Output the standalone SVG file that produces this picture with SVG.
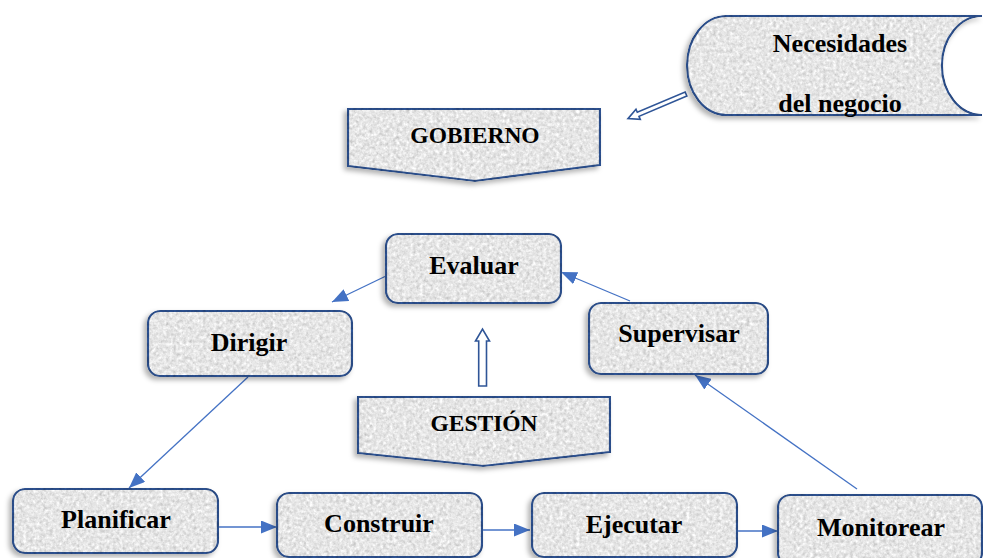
<svg xmlns="http://www.w3.org/2000/svg" width="983" height="558" viewBox="0 0 983 558">
  <style>
    .shape { fill: #ffffff; stroke: #2F5597; stroke-width: 2.2; filter: url(#granite); }
    .label { font-family: "Liberation Serif", "Times New Roman", serif; font-weight: bold; font-size: 26px; fill: #000; text-anchor: middle; }
    .caps { font-size: 23.5px; }
    .link { fill: none; stroke: #4472C4; stroke-width: 1.3; marker-end: url(#tri); }
    .hollow { fill: #ffffff; stroke: #2F5597; stroke-width: 1.6; stroke-linejoin: miter; }
  </style>
  <defs>
    <!-- grey stone texture with a soft shadow falling down-left -->
    <filter id="granite" x="-10%" y="-15%" width="120%" height="135%" color-interpolation-filters="sRGB">
      <feTurbulence type="fractalNoise" baseFrequency="0.3" numOctaves="3" seed="7" result="noise"/>
      <feColorMatrix in="noise" type="matrix" values="0.22 0.22 0 0 0.68  0.22 0.22 0 0 0.68  0.22 0.22 0 0 0.68  0 0 0 0 1" result="grey"/>
      <feBlend in="SourceGraphic" in2="grey" mode="multiply" result="blend"/>
      <feComposite in="blend" in2="SourceGraphic" operator="in" result="tex"/>
      <feGaussianBlur in="SourceAlpha" stdDeviation="2.5" result="blur"/>
      <feOffset in="blur" dx="-3" dy="3" result="off"/>
      <feFlood flood-color="#000" flood-opacity="0.3"/>
      <feComposite in2="off" operator="in" result="shadow"/>
      <feMerge>
        <feMergeNode in="shadow"/>
        <feMergeNode in="tex"/>
      </feMerge>
    </filter>
    <marker id="tri" markerUnits="userSpaceOnUse" markerWidth="16" markerHeight="13" refX="16" refY="6.5" orient="auto">
      <path d="M0,0 L16,6.5 L0,13 Z" fill="#4472C4"/>
    </marker>
  </defs>

  <!-- connectors -->
  <g id="connectors">
    <line class="link" x1="386" y1="276" x2="332" y2="302"/>
    <line class="link" x1="248" y1="377" x2="129" y2="488"/>
    <line class="link" x1="218" y1="527" x2="277" y2="527"/>
    <line class="link" x1="482" y1="530" x2="530" y2="530"/>
    <line class="link" x1="737" y1="531" x2="778" y2="531"/>
    <line class="link" x1="857" y1="489" x2="695" y2="375"/>
    <line class="link" x1="630" y1="301" x2="561" y2="272"/>
    <!-- block arrows -->
    <polygon class="hollow" transform="translate(686,94) rotate(157)" points="0,-2.2 52,-2.2 52,-5.5 63,0 52,5.5 52,2.2 0,2.2"/>
    <path class="hollow" d="M478.7 386 L478.7 341 L475.5 341 L482.5 329 L489.5 341 L486.5 341 L486.5 386 Z"/>
  </g>

  <g id="necesidades">
    <path class="shape" d="M726 16 L982 16 A40 49.5 0 0 0 982 115 L726 115 A39 49.5 0 0 1 726 16 Z"/>
    <text class="label" x="840" y="52">Necesidades</text>
    <text class="label" x="840" y="112">del negocio</text>
  </g>

  <g id="gobierno">
    <path class="shape" d="M348 109 L600 109 L600 165 L475 181 L348 166 Z"/>
    <text class="label caps" x="475" y="143">GOBIERNO</text>
  </g>

  <g id="evaluar">
    <rect class="shape" x="386" y="234" width="175" height="69" rx="12"/>
    <text class="label" x="474" y="274">Evaluar</text>
  </g>

  <g id="dirigir">
    <rect class="shape" x="148" y="311" width="204" height="65" rx="12"/>
    <text class="label" x="249" y="351">Dirigir</text>
  </g>

  <g id="supervisar">
    <rect class="shape" x="589" y="303" width="179" height="71" rx="12"/>
    <text class="label" x="679" y="342">Supervisar</text>
  </g>

  <g id="gestion">
    <path class="shape" d="M358 397 L610 397 L610 452 L483 466 L358 453 Z"/>
    <text class="label caps" x="484" y="431">GESTIÓN</text>
  </g>

  <g id="planificar">
    <rect class="shape" x="13" y="489" width="205" height="64" rx="12"/>
    <text class="label" x="116" y="528">Planificar</text>
  </g>

  <g id="construir">
    <rect class="shape" x="277" y="493" width="205" height="64" rx="12"/>
    <text class="label" x="379" y="532">Construir</text>
  </g>

  <g id="ejecutar">
    <rect class="shape" x="532" y="493" width="205" height="64" rx="12"/>
    <text class="label" x="634" y="533">Ejecutar</text>
  </g>

  <g id="monitorear">
    <rect class="shape" x="778" y="495" width="204" height="70" rx="12"/>
    <text class="label" x="881" y="536">Monitorear</text>
  </g>
</svg>
